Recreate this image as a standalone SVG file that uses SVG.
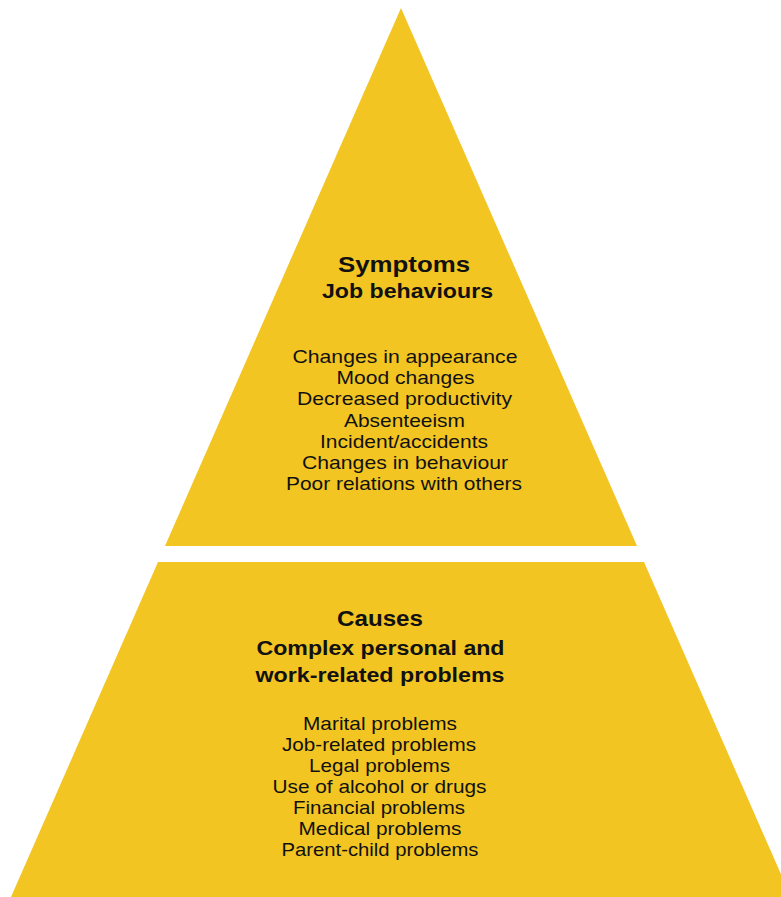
<svg xmlns="http://www.w3.org/2000/svg" width="781" height="897" viewBox="0 0 781 897">
<style>
.tier{fill:#F2C523;}
.h{font-family:"Liberation Sans",Arial,sans-serif;font-weight:bold;fill:#111;text-anchor:middle;}
.t{font-family:"Liberation Sans",Arial,sans-serif;font-size:19px;fill:#111;text-anchor:middle;}
</style>
<rect width="781" height="897" fill="#ffffff"/>
<g id="symptoms">
<polygon class="tier" points="401,8 637,546 165,546"/>
<text class="h" x="404" y="272" font-size="22" textLength="132" lengthAdjust="spacingAndGlyphs">Symptoms</text>
<text class="h" x="407.5" y="298" font-size="20" textLength="171" lengthAdjust="spacingAndGlyphs">Job behaviours</text>
<text class="t" x="405" y="363" textLength="225" lengthAdjust="spacingAndGlyphs">Changes in appearance</text>
<text class="t" x="405.5" y="384" textLength="138" lengthAdjust="spacingAndGlyphs">Mood changes</text>
<text class="t" x="404.5" y="405" textLength="215" lengthAdjust="spacingAndGlyphs">Decreased productivity</text>
<text class="t" x="404.5" y="427" textLength="121" lengthAdjust="spacingAndGlyphs">Absenteeism</text>
<text class="t" x="404" y="448" textLength="168" lengthAdjust="spacingAndGlyphs">Incident/accidents</text>
<text class="t" x="405" y="469" textLength="206" lengthAdjust="spacingAndGlyphs">Changes in behaviour</text>
<text class="t" x="404" y="490" textLength="236" lengthAdjust="spacingAndGlyphs">Poor relations with others</text>
</g>
<g id="causes">
<polygon class="tier" points="158,562 644,562 791,897 11,897"/>
<text class="h" x="380" y="626" font-size="22" textLength="86" lengthAdjust="spacingAndGlyphs">Causes</text>
<text class="h" x="380.5" y="655" font-size="20" textLength="248" lengthAdjust="spacingAndGlyphs">Complex personal and</text>
<text class="h" x="380" y="682" font-size="20" textLength="249" lengthAdjust="spacingAndGlyphs">work-related problems</text>
<text class="t" x="380" y="730" textLength="154" lengthAdjust="spacingAndGlyphs">Marital problems</text>
<text class="t" x="379" y="751" textLength="194" lengthAdjust="spacingAndGlyphs">Job-related problems</text>
<text class="t" x="379.5" y="772" textLength="141" lengthAdjust="spacingAndGlyphs">Legal problems</text>
<text class="t" x="379.5" y="793" textLength="214" lengthAdjust="spacingAndGlyphs">Use of alcohol or drugs</text>
<text class="t" x="379" y="814" textLength="172" lengthAdjust="spacingAndGlyphs">Financial problems</text>
<text class="t" x="380" y="835" textLength="163" lengthAdjust="spacingAndGlyphs">Medical problems</text>
<text class="t" x="380" y="856" textLength="197" lengthAdjust="spacingAndGlyphs">Parent-child problems</text>
</g>
<g id="connectors"/>
</svg>
